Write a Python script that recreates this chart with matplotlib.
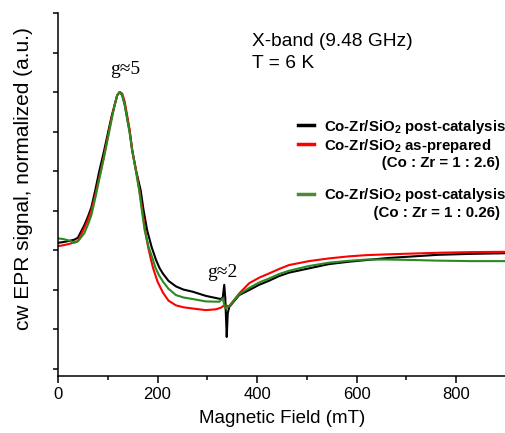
import matplotlib
matplotlib.use("Agg")
import matplotlib.pyplot as plt
from matplotlib.lines import Line2D
from matplotlib.ticker import MultipleLocator, NullFormatter

plt.rcParams['font.family'] = ['Liberation Sans', 'DejaVu Sans']
plt.rcParams['mathtext.fontset'] = 'custom'
plt.rcParams['mathtext.rm'] = 'Liberation Sans'
plt.rcParams['mathtext.bf'] = 'Liberation Sans:bold'

# magnetic field (mT) and normalized cw EPR signal
field_black = [0, 10, 24, 33, 40, 53, 60, 67, 75, 83, 92, 101, 108, 114, 119, 124, 129, 134,
               144, 149, 157, 166, 172, 179, 188, 197, 204, 211, 222, 237, 252, 271, 297, 327,
               331, 334, 336, 339, 341, 344, 364, 384, 404, 424, 444, 464, 504, 544, 584, 620,
               664, 714, 764, 830, 900]
post_cat = [0.046, 0.05, 0.059, 0.066, 0.078, 0.158, 0.21, 0.27, 0.38, 0.5, 0.62, 0.75, 0.85,
            0.92, 0.98, 1.0, 0.98, 0.92, 0.75, 0.633, 0.5, 0.38, 0.25, 0.127, 0.02, -0.063,
            -0.114, -0.15, -0.195, -0.23, -0.25, -0.264, -0.29, -0.31, -0.30, -0.22, -0.30,
            -0.55, -0.40, -0.36, -0.285, -0.253, -0.22, -0.194, -0.165, -0.143, -0.116,
            -0.089, -0.074, -0.063, -0.05, -0.04, -0.03, -0.024, -0.02]

field_red = [0, 10, 24, 33, 40, 53, 60, 67, 75, 83, 92, 101, 108, 114, 119, 124, 129, 134,
             144, 149, 157, 164, 170, 175, 181, 187, 191, 200, 211, 222, 237, 252, 271, 297,
             317, 327, 334, 344, 364, 384, 404, 424, 444, 464, 504, 544, 584, 620, 664, 714,
             764, 830, 900]
as_prep = [0.025, 0.03, 0.04, 0.05, 0.057, 0.14, 0.19, 0.25, 0.35, 0.46, 0.59, 0.73, 0.84,
           0.92, 0.98, 1.0, 0.99, 0.94, 0.76, 0.633, 0.5, 0.37, 0.24, 0.127, 0.02, -0.063,
           -0.114, -0.2, -0.27, -0.32, -0.35, -0.362, -0.37, -0.38, -0.375, -0.365, -0.35,
           -0.355, -0.275, -0.21, -0.175, -0.148, -0.12, -0.095, -0.07, -0.053, -0.04,
           -0.032, -0.027, -0.022, -0.017, -0.013, -0.011]

field_green = [0, 10, 24, 33, 40, 53, 60, 67, 75, 83, 92, 101, 108, 114, 119, 124, 129, 134,
               144, 149, 157, 163, 169, 174, 182, 191, 196, 203, 211, 222, 237, 252, 271, 297,
               324, 331, 336, 344, 364, 384, 404, 424, 444, 464, 504, 544, 584, 620, 664, 714,
               764, 830, 900]
post_cat_low = [0.074, 0.07, 0.059, 0.046, 0.055, 0.107, 0.16, 0.22, 0.33, 0.45, 0.58, 0.72,
                0.83, 0.92, 0.98, 1.0, 0.98, 0.92, 0.74, 0.633, 0.49, 0.38, 0.24, 0.127, 0.02,
                -0.063, -0.114, -0.16, -0.2, -0.245, -0.285, -0.30, -0.31, -0.325, -0.327,
                -0.306, -0.37, -0.355, -0.28, -0.24, -0.205, -0.18, -0.152, -0.131, -0.101,
                -0.08, -0.068, -0.06, -0.06, -0.063, -0.067, -0.07, -0.07]

green = '#2a8a22'

fig = plt.figure(figsize=(5.06, 4.33), dpi=100)
ax = fig.add_axes([0.1146, 0.1316, 0.8854, 0.8384])

ax.plot(field_black, post_cat, color='black', lw=1.5)
ax.plot(field_red, as_prep, color='#ff0000', lw=1.5)
ax.plot(field_green, post_cat_low, color=green, lw=1.5)

ax.set_xlim(0, 900)
ax.set_ylim(-0.797, 1.5)
ax.xaxis.set_major_locator(MultipleLocator(200))
ax.xaxis.set_minor_locator(MultipleLocator(100))
ax.yaxis.set_major_locator(MultipleLocator(0.25))
ax.yaxis.set_major_formatter(NullFormatter())
ax.tick_params(axis='x', which='major', length=5, width=1.1, labelsize=12, pad=3)
ax.tick_params(axis='x', which='minor', length=3, width=1.1)
ax.tick_params(axis='y', length=3.5, width=1.1)
for side in ['top', 'right']:
    ax.spines[side].set_visible(False)
for side in ['left', 'bottom']:
    ax.spines[side].set_linewidth(1.1)

ax.set_xlabel('Magnetic Field (mT)', fontsize=13.5, labelpad=6)
ax.set_ylabel('cw EPR signal, normalized (a.u.)', fontsize=15)
ax.yaxis.set_label_coords(-0.055, 0.543)

ax.text(390, 1.293, 'X-band (9.48 GHz)', fontsize=13.8, va='baseline')
ax.text(390, 1.15, 'T = 6 K', fontsize=13.8, va='baseline')
ax.text(134, 1.114, 'g≈5', fontsize=14, ha='center', va='baseline',
        family=['Liberation Serif', 'DejaVu Serif'])
ax.text(330, -0.17, 'g≈2', fontsize=14, ha='center', va='baseline',
        family=['Liberation Serif', 'DejaVu Serif'])

handles = [Line2D([], [], color='black', lw=2.5),
           Line2D([], [], color='#ff0000', lw=2.5),
           Line2D([], [], color='none'),
           Line2D([], [], color='none'),
           Line2D([], [], color='#4e8a35', lw=2.5),
           Line2D([], [], color='none')]
labels = [r'Co-Zr/SiO$_\mathbf{2}$ post-catalysis',
          r'Co-Zr/SiO$_\mathbf{2}$ as-prepared',
          '              (Co : Zr = 1 : 2.6)',
          ' ',
          r'Co-Zr/SiO$_\mathbf{2}$ post-catalysis',
          '            (Co : Zr = 1 : 0.26)']
ax.legend(handles, labels, loc='upper left', bbox_to_anchor=(0.536, 0.712),
          frameon=False, borderpad=0, borderaxespad=0, handlelength=1.05,
          handletextpad=0.7, labelspacing=0.08,
          prop={'weight': 'bold', 'size': 10.8})

fig.savefig('out.png', dpi=100)
